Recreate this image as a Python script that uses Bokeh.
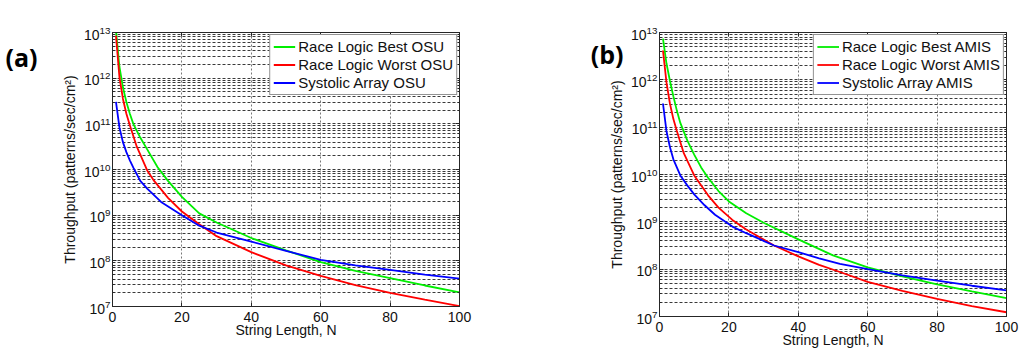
import numpy as np
from bokeh.plotting import figure
from bokeh.models import (FixedTicker, Legend, LegendItem, LinearAxis, LogAxis,
                          Range1d, CustomJSTickFormatter)
from bokeh.layouts import row
from bokeh.embed import file_html
from bokeh.resources import INLINE

# ---------------- data (throughput given as log10 values) -------------
x_ticks = [0, 20, 40, 60, 80, 100]
y_exponents = [7, 8, 9, 10, 11, 12, 13]

# panel (a) - OSU
n_best_osu = [1, 2, 3, 4, 5, 6, 8, 10, 13, 16, 20, 25, 30, 40, 50, 60, 70, 80, 90, 100]
log_best_osu = [13.05, 12.25, 11.8, 11.48, 11.22, 11.0, 10.7, 10.44, 10.05, 9.75, 9.4, 9.04,
                8.84, 8.5, 8.23, 7.97, 7.78, 7.62, 7.46, 7.31]
n_worst_osu = [1, 2, 3, 4, 5, 7, 10, 12, 16, 20, 25, 30, 40, 50, 60, 70, 80, 90, 100]
log_worst_osu = [12.93, 12.02, 11.55, 11.22, 10.97, 10.5, 9.98, 9.75, 9.38, 9.08, 8.8, 8.54,
                 8.19, 7.9, 7.67, 7.47, 7.3, 7.15, 7.01]
n_sys_osu = [1, 2, 3, 4, 5, 6, 8, 10, 14, 20, 25, 30, 40, 50, 60, 70, 80, 90, 100]
log_sys_osu = [11.48, 10.92, 10.6, 10.38, 10.2, 10.04, 9.75, 9.58, 9.29, 9.0, 8.77, 8.62,
               8.42, 8.22, 8.02, 7.9, 7.8, 7.7, 7.61]

# panel (b) - AMIS
n_best_amis = [1, 2, 3, 4, 5, 6, 8, 10, 12, 14, 17, 20, 25, 30, 40, 50, 60, 70, 80, 90, 100]
log_best_amis = [12.87, 12.35, 11.98, 11.65, 11.35, 11.09, 10.72, 10.42, 10.15, 9.93, 9.65,
                 9.43, 9.18, 8.98, 8.63, 8.29, 8.04, 7.85, 7.68, 7.53, 7.39]
n_worst_amis = [1, 2, 3, 4, 5, 7, 10, 14, 17, 21, 25, 33, 40, 46, 52, 60, 70, 80, 90, 100]
log_worst_amis = [12.62, 11.95, 11.5, 11.17, 10.92, 10.45, 9.98, 9.56, 9.3, 9.04, 8.84, 8.5,
                  8.27, 8.09, 7.94, 7.73, 7.54, 7.37, 7.22, 7.09]
n_sys_amis = [1, 2, 3, 4, 5, 6, 8, 10, 13, 16, 21, 25, 33, 40, 46, 52, 60, 70, 80, 90, 100]
log_sys_amis = [11.5, 10.92, 10.58, 10.32, 10.15, 9.98, 9.77, 9.58, 9.35, 9.15, 8.9, 8.76,
                8.5, 8.36, 8.23, 8.11, 8.0, 7.87, 7.76, 7.65, 7.55]

labels_a = ["Race Logic Best OSU", "Race Logic Worst OSU", "Systolic Array OSU"]
labels_b = ["Race Logic Best AMIS", "Race Logic Worst AMIS", "Systolic Array AMIS"]
colors = ["#00ee00", "#ff0000", "#0000ff"]

FONT = "Liberation Sans"
AX = "#262626"
TXT = "#111111"


def blank():
    return CustomJSTickFormatter(code="return ''")


def make_panel(letter, series, labels, bl, br, bt, bb, fw, fh, letter_px):
    p = figure(frame_width=fw, frame_height=fh, x_range=Range1d(0, 100),
               y_range=Range1d(1e7, 1e13), y_axis_type="log",
               min_border_left=bl, min_border_right=br, min_border_top=bt,
               min_border_bottom=bb, output_backend="svg", toolbar_location=None)
    p.outline_line_color = AX
    dec_px = fh / 6.0

    major_y = [10.0 ** e for e in y_exponents]
    minor_y = [m * 10.0 ** e for e in y_exponents[:-1] for m in range(2, 10)]
    yt = FixedTicker(ticks=major_y, minor_ticks=minor_y)
    xt = FixedTicker(ticks=x_ticks)
    p.yaxis.ticker = yt
    p.ygrid.ticker = yt
    p.xaxis.ticker = xt
    p.xgrid.ticker = xt

    for ax in (p.xaxis[0], p.yaxis[0]):
        ax.axis_line_color = AX
        ax.major_tick_line_color = AX
        ax.minor_tick_line_color = AX
        ax.major_tick_in = 4
        ax.major_tick_out = 0
        ax.minor_tick_in = 2
        ax.minor_tick_out = 0
        ax.major_label_text_font = FONT
        ax.major_label_text_font_size = "14px"
        ax.major_label_text_color = TXT
        ax.axis_label_text_font = FONT
        ax.axis_label_text_font_size = "14px"
        ax.axis_label_text_font_style = "normal"
        ax.axis_label_text_color = TXT
    p.xaxis.major_label_standoff = 5
    p.xaxis.axis_label = "String Length, N"
    p.xaxis.axis_label_standoff = -3
    p.yaxis.major_label_standoff = 2
    p.yaxis.axis_label = "Throughput (patterns/sec/cm\u00b2)"
    p.yaxis.axis_label_standoff = 3

    top = LinearAxis(ticker=xt, formatter=blank(), major_tick_in=4, major_tick_out=0,
                     minor_tick_in=0, minor_tick_out=0, axis_line_color=AX,
                     major_tick_line_color=AX)
    right = LogAxis(ticker=yt, formatter=blank(), major_tick_in=4, major_tick_out=0,
                    minor_tick_in=2, minor_tick_out=0, axis_line_color=AX,
                    major_tick_line_color=AX, minor_tick_line_color=AX)
    p.add_layout(top, "above")
    p.add_layout(right, "right")

    # panel letter drawn as the single tick label of an extra, invisible left axis
    letter_y = 10.0 ** (13 - letter_px[1] / dec_px)
    letter_axis = LogAxis(ticker=FixedTicker(ticks=[letter_y]),
                          formatter=CustomJSTickFormatter(code="return '%s'" % letter),
                          axis_line_color=None, major_tick_line_color=None,
                          minor_tick_line_color=None, major_tick_in=0, major_tick_out=0,
                          minor_tick_in=0, minor_tick_out=0,
                          major_label_standoff=letter_px[0],
                          major_label_text_font="Open Sans",
                          major_label_text_font_style="bold",
                          major_label_text_font_size="25px",
                          major_label_text_color="#000000")
    p.add_layout(letter_axis, "left")

    p.ygrid.grid_line_color = "#3a3a3a"
    p.ygrid.grid_line_dash = "3 2"
    p.ygrid.minor_grid_line_color = "#3a3a3a"
    p.ygrid.minor_grid_line_dash = "3 2"
    p.xgrid.grid_line_color = "#777777"
    p.xgrid.grid_line_dash = "2 2"

    items = []
    for (n, lg), lab, col in zip(series, labels, colors):
        r = p.line(n, [10.0 ** v for v in lg], line_color=col, line_width=1.8)
        items.append(LegendItem(label=lab, renderers=[r]))
    leg = Legend(items=items, location="top_right", margin=2, padding=3, spacing=1,
                 glyph_width=22, glyph_height=17, label_height=17, label_standoff=3,
                 label_text_font=FONT, label_text_font_size="15px",
                 label_text_color=TXT, border_line_color=AX, border_line_width=1,
                 background_fill_alpha=1.0)
    p.add_layout(leg)
    return p


pa = make_panel("(a)",
                [(n_best_osu, log_best_osu), (n_worst_osu, log_worst_osu), (n_sys_osu, log_sys_osu)],
                labels_a, 112, 53, 31, 47, 347, 274, (22, 24))
pb = make_panel("(b)",
                [(n_best_amis, log_best_amis), (n_worst_amis, log_worst_amis), (n_sys_amis, log_sys_amis)],
                labels_b, 147, 18, 32, 36, 347, 284, (-17, 21))

layout = row(pa, pb)
open("out.html", "w").write(file_html(layout, INLINE))
